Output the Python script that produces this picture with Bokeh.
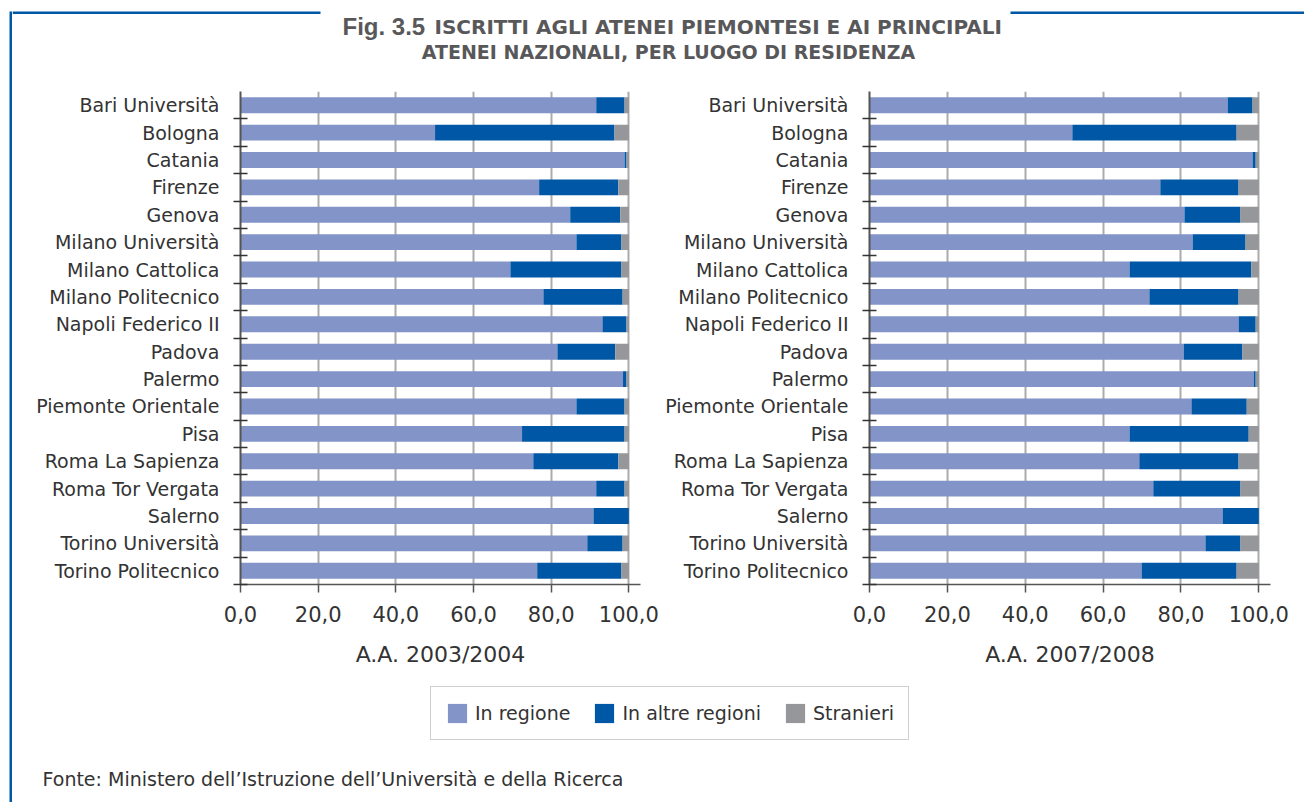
from bokeh.plotting import figure
from bokeh.layouts import row, column
from bokeh.models import Range1d, FixedTicker, ColumnDataSource, Label, Legend, LegendItem
from bokeh.embed import file_html
from bokeh.resources import INLINE

categories = [
    "Bari Università", "Bologna", "Catania", "Firenze", "Genova",
    "Milano Università", "Milano Cattolica", "Milano Politecnico",
    "Napoli Federico II", "Padova", "Palermo", "Piemonte Orientale", "Pisa",
    "Roma La Sapienza", "Roma Tor Vergata", "Salerno", "Torino Università",
    "Torino Politecnico",
]

in_regione_0304 = [91.6, 50.1, 98.9, 76.9, 84.9, 86.5, 69.5, 78.0, 93.2, 81.6, 98.5, 86.5, 72.5, 75.4, 91.6, 90.9, 89.3, 76.4]
altre_regioni_0304 = [7.3, 46.2, 0.5, 20.4, 12.9, 11.6, 28.6, 20.4, 6.2, 14.9, 0.9, 12.4, 26.4, 21.9, 7.3, 9.1, 9.1, 21.7]
stranieri_0304 = [1.1, 3.7, 0.6, 2.7, 2.2, 1.9, 1.9, 1.6, 0.6, 3.5, 0.6, 1.1, 1.1, 2.7, 1.1, 0.0, 1.6, 1.9]

in_regione_0708 = [92.0, 52.1, 98.4, 74.7, 80.9, 83.0, 66.8, 71.9, 94.8, 80.7, 98.7, 82.7, 66.8, 69.3, 72.9, 90.7, 86.3, 69.9]
altre_regioni_0708 = [6.4, 42.2, 0.8, 20.1, 14.4, 13.6, 31.3, 22.9, 4.4, 15.1, 0.5, 14.2, 30.6, 25.5, 22.4, 9.3, 9.0, 24.4]
stranieri_0708 = [1.6, 5.7, 0.8, 5.2, 4.7, 3.4, 1.9, 5.2, 0.8, 4.2, 0.8, 3.1, 2.6, 5.2, 4.7, 0.0, 4.7, 5.7]

series_names = ["In regione", "In altre regioni", "Stranieri"]
x_ticks = [0, 20, 40, 60, 80, 100]
x_tick_labels = ["0,0", "20,0", "40,0", "60,0", "80,0", "100,0"]
period_labels = ["A.A. 2003/2004", "A.A. 2007/2008"]

TITLE_FIG = "Fig. 3.5"
TITLE_1 = "ISCRITTI AGLI ATENEI PIEMONTESI E AI PRINCIPALI"
TITLE_2 = "ATENEI NAZIONALI, PER LUOGO DI RESIDENZA"
SOURCE = "Fonte: Ministero dell\u2019Istruzione dell\u2019Università e della Ricerca"

BLUE = "#0057A6"
COLORS = ["#8294C8", "#0057A6", "#96979A"]
FONT = "DejaVu Sans"
TEXT = "#333333"
TITLE_COLOR = "#58585A"


def chart(width, bl, br, bt, bb, reg, alt, stra, period):
    n = len(categories)
    ys = [n - i - 0.5 for i in range(n)]
    src = ColumnDataSource(dict(y=ys, reg=reg, alt=alt, stra=stra))
    p = figure(width=width, height=612, x_range=Range1d(0, 103), y_range=Range1d(0, n),
               output_backend="svg", toolbar_location=None,
               min_border_left=bl, min_border_right=br, min_border_top=bt, min_border_bottom=bb,
               outline_line_color=None, background_fill_color="white", border_fill_color="white")
    p.hbar_stack(["reg", "alt", "stra"], y="y", height=0.58, color=COLORS,
                 line_color=None, source=src)

    p.ygrid.visible = False
    p.xgrid.ticker = FixedTicker(ticks=x_ticks)
    p.xgrid.grid_line_color = "#ABABAB"
    p.xgrid.grid_line_width = 2

    ya = p.yaxis[0]
    ya.ticker = FixedTicker(ticks=ys, minor_ticks=[float(k) for k in range(n)])
    ya.major_label_overrides = {y: c for y, c in zip(ys, categories)}
    ya.major_tick_line_color = None
    ya.major_tick_in = 0
    ya.major_tick_out = 0
    ya.minor_tick_in = 7
    ya.minor_tick_out = 7
    ya.minor_tick_line_color = "#333333"
    ya.minor_tick_line_width = 1.5
    ya.axis_line_color = "#555555"
    ya.axis_line_width = 2
    ya.major_label_text_font = FONT
    ya.major_label_text_font_size = "19px"
    ya.major_label_text_color = TEXT
    ya.major_label_standoff = 14

    xa = p.xaxis[0]
    xa.ticker = FixedTicker(ticks=x_ticks)
    xa.major_label_overrides = {t: s for t, s in zip(x_ticks, x_tick_labels)}
    xa.minor_tick_line_color = None
    xa.major_tick_in = 0
    xa.major_tick_out = 8
    xa.major_tick_line_color = "#555555"
    xa.major_tick_line_width = 1.5
    xa.axis_line_color = "#555555"
    xa.axis_line_width = 1.5
    xa.major_label_text_font = FONT
    xa.major_label_text_font_size = "21px"
    xa.major_label_text_color = TEXT
    xa.major_label_standoff = 13
    xa.axis_label = period
    xa.axis_label_text_font = FONT
    xa.axis_label_text_font_size = "22px"
    xa.axis_label_text_font_style = "normal"
    xa.axis_label_text_color = TEXT
    xa.axis_label_standoff = 17
    return p


def blank(width, height):
    f = figure(width=width, height=height, x_range=Range1d(0, width), y_range=Range1d(height, 0),
               x_axis_location=None, y_axis_location=None, toolbar_location=None,
               output_backend="svg", outline_line_color=None,
               background_fill_color="white", border_fill_color="white",
               min_border_left=0, min_border_right=0, min_border_top=0, min_border_bottom=0)
    f.grid.visible = False
    return f


# left blue border strip
strip = figure(width=12, height=802, x_axis_location=None, y_axis_location=None,
               toolbar_location=None, output_backend="svg", outline_line_color=None,
               min_border_left=9, min_border_right=0, min_border_top=11, min_border_bottom=0,
               background_fill_color=BLUE, border_fill_color="white")
strip.grid.visible = False

# title
top = blank(1292, 68)
top.segment(x0=[0, 998], y0=[12.2, 12.2], x1=[308, 1292], y1=[12.2, 12.2],
            line_color=BLUE, line_width=2.5)
top.add_layout(Label(x=330, y=26, text=TITLE_FIG, text_font="Liberation Sans",
                     text_font_style="bold", text_font_size="24px", text_color=TITLE_COLOR,
                     text_baseline="alphabetic"))
top.add_layout(Label(x=422, y=26, text=TITLE_1, text_font=FONT,
                     text_font_style="bold", text_font_size="20px", text_color=TITLE_COLOR,
                     text_baseline="alphabetic"))
top.add_layout(Label(x=656, y=51, text=TITLE_2, text_font=FONT, text_align="center",
                     text_font_style="bold", text_font_size="19px", text_color=TITLE_COLOR,
                     text_baseline="alphabetic"))

left = chart(648, 228, 20, 18, 96, in_regione_0304, altre_regioni_0304, stranieri_0304, period_labels[0])
right = chart(644, 209, 34, 23, 91, in_regione_0708, altre_regioni_0708, stranieri_0708, period_labels[1])

# legend + source
bottom = blank(1292, 122)
rends = [bottom.quad(left=[0], right=[0], top=[0], bottom=[0], fill_color=c, line_color=None)
         for c in COLORS]
legend = Legend(items=[LegendItem(label=s, renderers=[r], index=0) for s, r in zip(series_names, rends)],
                orientation="horizontal", location=(418, 62), margin=0, padding=14,
                glyph_width=24, glyph_height=24, label_standoff=6, spacing=22,
                label_text_font=FONT, label_text_font_size="19px", label_text_color=TEXT,
                border_line_color="#A0A0A0", border_line_width=1.5,
                background_fill_color="white", background_fill_alpha=1.0)
bottom.add_layout(legend)
bottom.add_layout(Label(x=30, y=98, text=SOURCE, text_font=FONT, text_font_size="19px",
                        text_color=TEXT, text_baseline="middle"))

layout = row(strip, column(top, row(left, right), bottom))

open("out.html", "w").write(file_html(layout, INLINE))
